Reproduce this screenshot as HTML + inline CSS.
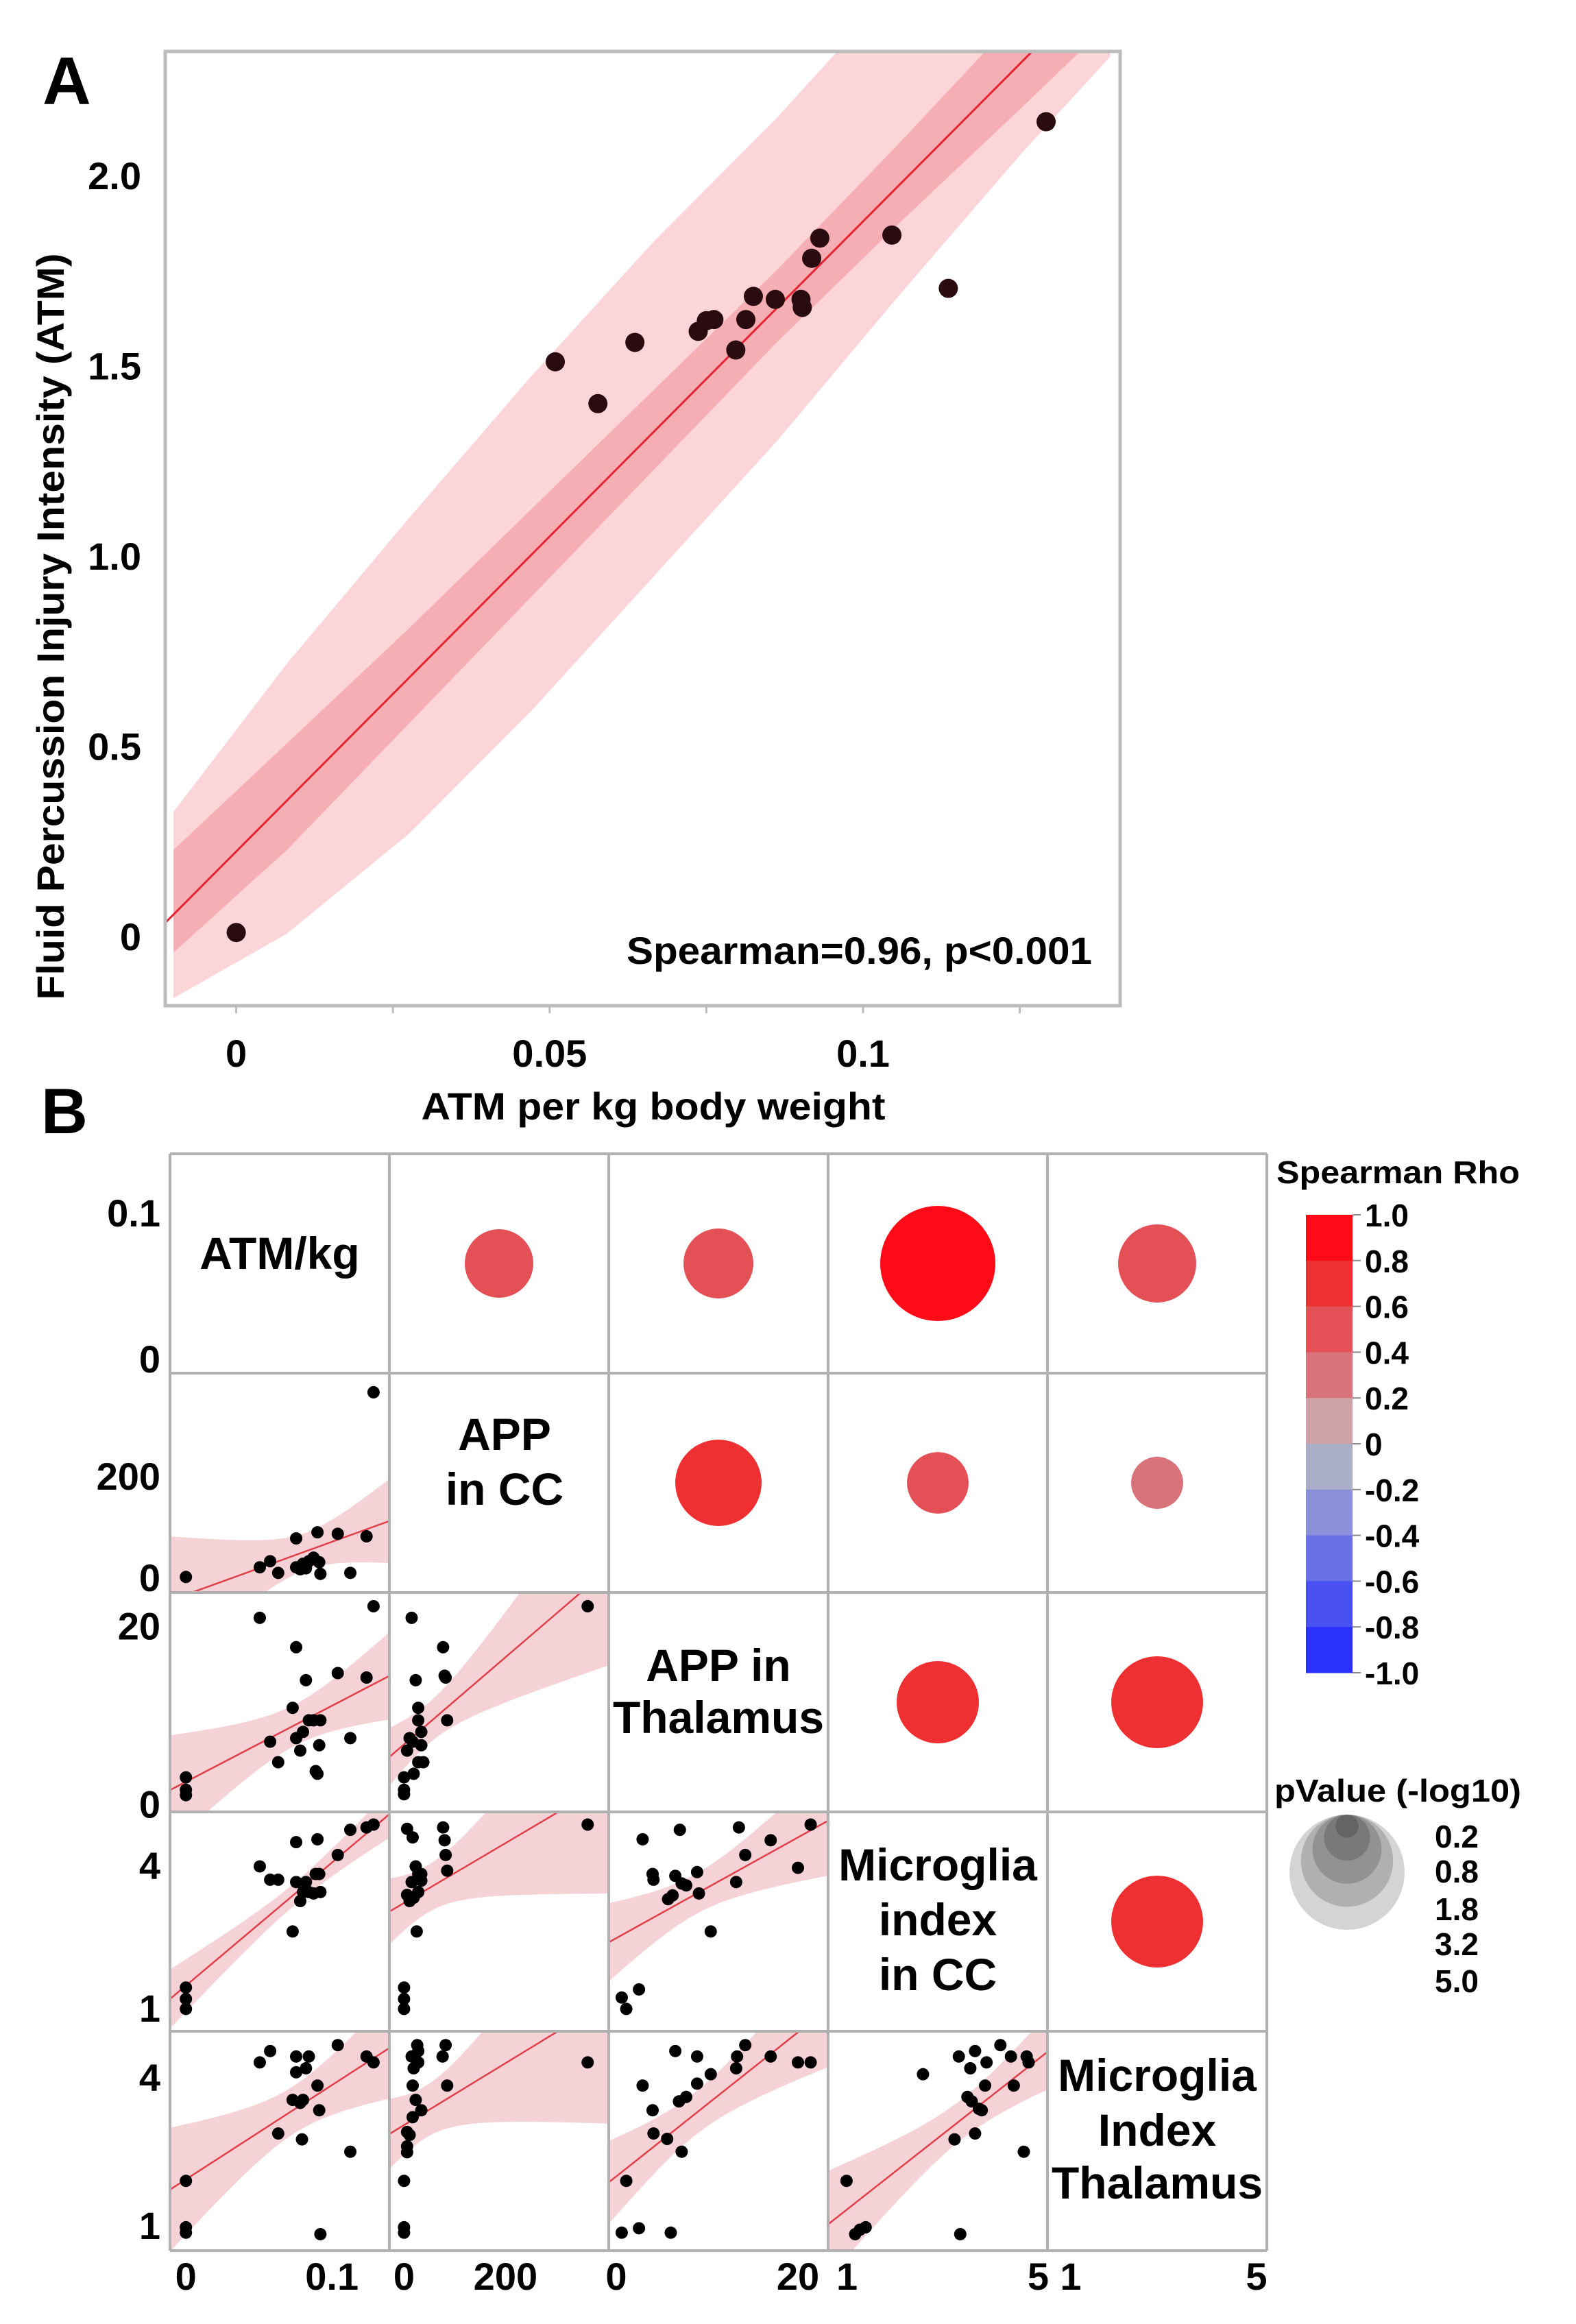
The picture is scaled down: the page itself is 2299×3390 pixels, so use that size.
<!DOCTYPE html>
<html><head><meta charset="utf-8"><title>ATM correlation figure</title>
<style>
html,body{margin:0;padding:0;background:#fff;}
svg{display:block;font-family:"Liberation Sans",Arial,sans-serif;font-weight:bold;}
</style></head>
<body>
<svg id="chart" xmlns="http://www.w3.org/2000/svg" width="2299" height="3390" viewBox="0 0 2299 3390">
<defs>
<clipPath id="clipA"><rect x="243" y="77" width="1389" height="1388"/></clipPath>
</defs>
<rect x="0" y="0" width="2299" height="3390" fill="#fff"/>
</svg>
<script>
// ---------- Panel A data ----------
const aX=[0,0.0509,0.0577,0.0636,0.0737,0.0750,0.0762,0.0797,0.0813,0.0825,0.0860,0.0901,0.0903,0.0918,0.0931,0.1046,0.1136,0.1292];
const aY=[0.01,1.510,1.400,1.561,1.590,1.618,1.621,1.541,1.621,1.682,1.674,1.674,1.653,1.782,1.835,1.843,1.703,2.141];
const aFit=[0.223,16.56];
const bandX=[-0.0100,0.0081,0.0276,0.0471,0.0666,0.0862,0.1057,0.1252,0.1394];
const lightUp=[0.27,0.36,0.42,0.47,0.50,0.50,0.53,0.55,0.56];
const lightLo=[0.22,0.35,0.41,0.41,0.38,0.35,0.29,0.24,0.22];
const darkUp=[0.17,0.15,0.13,0.12,0.11,0.10,0.11,0.13,0.14];
const darkLo=[0.10,0.13,0.12,0.11,0.10,0.09,0.10,0.12,0.13];
const aYTicks=[0,0.5,1.0,1.5,2.0];
const aYTickLabels=["0","0.5","1.0","1.5","2.0"];
const aXTicks=[0,0.05,0.1];
const aXTickLabels=["0","0.05","0.1"];
const aXMinor=[0,0.025,0.05,0.075,0.1,0.125];

// ---------- Panel B data ----------
const pairRow=[0,0,0,0,1,1,1,2,2,3];
const pairCol=[1,2,3,4,2,3,4,3,4,4];
const rhoVals=[0.5,0.5,0.92,0.5,0.7,0.45,0.3,0.7,0.7,0.7];
const negLogP=[1.77,1.84,5.0,2.30,2.81,1.43,1.02,2.55,3.18,3.18];
const legendP=[0.2,0.8,1.8,3.2,5.0];
const legendPLabels=["0.2","0.8","1.8","3.2","5.0"];
const rhoTicks=[1.0,0.8,0.6,0.4,0.2,0,-0.2,-0.4,-0.6,-0.8,-1.0];
const rhoTickLabels=["1.0","0.8","0.6","0.4","0.2","0","-0.2","-0.4","-0.6","-0.8","-1.0"];

const c10x=[0,0.0506,0.0577,0.0632,0.0755,0.0755,0.0783,0.0802,0.0822,0.0842,0.0874,0.0901,0.0913,0.0921,0.104,0.1126,0.1237,0.1285];
const c10y=[1,20,32,9,77,20,16,27,18,32,39,89,30,7,86,9,81,365];
const c10fit=[-34,1042];
const c20x=[0,0,0,0.0506,0.0577,0.0632,0.0731,0.0755,0.0755,0.0783,0.0802,0.0822,0.0842,0.0874,0.0889,0.0901,0.0913,0.0921,0.104,0.1126,0.1237,0.1285];
const c20y=[3.0,1.6,1.0,20.9,7.0,4.7,10.8,17.6,7.4,6.0,8.1,13.9,9.4,9.4,3.7,3.4,6.6,9.4,14.7,7.4,14.2,22.2];
const c20fit=[2.5,85.3];
const c21x=[0,0,0,15,23,28,28,34,34,28,17,6,19,38,77,82,80,85,362,11];
const c21y=[3.0,1.6,1.1,20.9,13.9,10.8,9.4,8.1,6.6,4.7,7.0,6.0,3.4,4.7,17.6,14.2,14.4,9.4,22.2,7.4];
const c21fit=[6.7,0.0489];
const c30x=[0,0,0,0.0506,0.0577,0.0632,0.0731,0.0755,0.0755,0.0783,0.0802,0.0822,0.0842,0.0874,0.0889,0.0901,0.0913,0.0921,0.104,0.1126,0.1237,0.1285];
const c30y=[1.43,1.19,0.98,3.98,3.70,3.70,2.61,4.49,3.65,3.25,3.44,3.65,3.44,3.41,3.82,4.55,3.82,3.44,4.22,4.75,4.80,4.86];
const c30fit=[1.47,25.9];
const c31x=[0,0,0,6,17,23,15,28,34,28,19,11,25,77,80,82,85,362,6,34];
const c31y=[1.43,1.19,0.98,4.77,4.59,3.98,3.65,3.82,3.82,3.44,3.32,3.25,2.61,4.80,4.53,4.22,3.89,4.86,3.38,3.68];
const c31fit=[3.21,0.0063];
const c32x=[0.6,1.1,2.5,2.9,4.0,4.1,5.7,6.2,6.5,7.0,7.2,7.7,8.9,9.1,10.4,13.2,13.5,14.2,17.0,20.0,21.4];
const c32y=[1.22,0.98,1.39,4.55,3.82,3.70,3.29,3.37,3.78,4.75,3.62,3.58,3.86,3.41,2.61,3.65,4.80,4.22,4.53,3.95,4.86];
const c32fit=[2.47,0.106];
const c40x=[0,0,0,0.0506,0.0577,0.0632,0.0755,0.0755,0.0783,0.0802,0.0731,0.0795,0.0822,0.0842,0.0901,0.0913,0.104,0.1126,0.1237,0.1285,0.0921];
const c40y=[1.90,0.96,0.85,4.30,4.53,2.86,4.42,4.10,3.48,3.54,3.54,2.74,4.18,4.42,3.83,3.33,4.65,2.49,4.42,4.30,0.82];
const c40fit=[1.93,19.1];
const c41x=[0,0,0,6,6,15,17,19,23,28,28,26,34,11,76,82,85,362,17,6];
const c41y=[1.90,0.96,0.85,2.89,2.48,4.42,3.83,4.18,3.54,4.53,4.30,4.65,3.33,2.83,4.42,4.65,3.83,4.30,3.19,2.60];
const c41fit=[3.03,0.00627];
const c42x=[0.6,1.1,2.5,2.9,4.0,4.1,5.6,6.0,6.5,6.9,7.2,7.7,8.9,8.9,10.4,13.2,13.3,14.2,17.0,20.0,21.4];
const c42y=[0.85,1.90,0.94,3.83,3.33,2.86,2.75,0.85,4.53,3.51,2.49,3.60,3.87,4.42,4.06,4.18,4.42,4.65,4.42,4.30,4.30];
const c42fit=[1.99,0.146];
const c43x=[0.99,1.17,1.27,1.39,2.59,3.25,3.34,3.37,3.52,3.58,3.61,3.68,3.68,3.76,3.82,3.89,3.92,4.21,4.43,4.49,4.70,4.76,4.80];
const c43y=[1.90,0.82,0.91,0.96,4.06,2.74,4.42,0.82,3.60,4.18,3.51,4.53,2.86,3.36,3.33,3.83,4.30,4.65,4.42,3.83,2.49,4.42,4.30];
const c43fit=[0.56,0.761];

const bXTicks=[[0,0.1],[0,200],[0,20],[1,5],[1,5]];
const bXTickLabels=[["0","0.1"],["0","200"],["0","20"],["1","5"],["1","5"]];
const bYTicks=[[0,0.1],[0,200],[0,20],[1,4],[1,4]];
const bYTickLabels=[["0","0.1"],["0","200"],["0","20"],["1","4"],["1","4"]];

// ---------- helpers ----------
const NS="http://www.w3.org/2000/svg";
const svg=document.getElementById('chart');
function el(tag,attrs,parent){const e=document.createElementNS(NS,tag);for(const k in attrs)e.setAttribute(k,attrs[k]);(parent||svg).appendChild(e);return e;}
function txt(s,attrs,parent){const e=el('text',attrs,parent);e.textContent=s;return e;}

// ---------- Panel A ----------
const xA=v=>344.6+v*9144;
const yA=v=>1365.8-v*555;
const gA=el('g',{});


const label_A=txt('A',{x:62,y:152,'font-size':98,fill:'#000'},gA);



const clipG=el('g',{'clip-path':'url(#clipA)'},gA);


function bandPath(up,lo){
  let pts=[];
  for(let i=0;i<bandX.length;i++){const x=bandX[i];pts.push(xA(x).toFixed(1)+','+yA(aFit[0]+aFit[1]*x+up[i]).toFixed(1));}
  for(let i=bandX.length-1;i>=0;i--){const x=bandX[i];pts.push(xA(x).toFixed(1)+','+yA(aFit[0]+aFit[1]*x-lo[i]).toFixed(1));}
  return pts.join(' ');
}
const predBand=el('polygon',{points:bandPath(lightUp,lightLo),fill:'#fbd5d8'},clipG);


const ciBand=el('polygon',{points:bandPath(darkUp,darkLo),fill:'#f5aeb3'},clipG);


const x0=-0.02,x1=0.15;
const fitLine=el('line',{x1:xA(x0),y1:yA(aFit[0]+aFit[1]*x0),x2:xA(x1),y2:yA(aFit[0]+aFit[1]*x1),stroke:'#e42430','stroke-width':3},clipG);


for(let i=0;i<aX.length;i++){
  const d=el('circle',{cx:xA(aX[i]),cy:yA(aY[i]),r:14,fill:'#2a0b0f'},clipG);
  
  
}
const frameA=el('rect',{x:241,y:75,width:1393,height:1392,fill:'none',stroke:'#bcbcbc','stroke-width':5},gA);


for(let i=0;i<aXMinor.length;i++){
  const t=el('line',{x1:xA(aXMinor[i]),x2:xA(aXMinor[i]),y1:1467,y2:1478,stroke:'#bcbcbc','stroke-width':3},gA);
  
  
}
for(let i=0;i<aYTicks.length;i++){
  const t=txt(aYTickLabels[i],{x:206,y:yA(aYTicks[i])+20,'font-size':56,'text-anchor':'end',fill:'#000'},gA);
  
  
}
for(let i=0;i<aXTicks.length;i++){
  const t=txt(aXTickLabels[i],{x:xA(aXTicks[i]),y:1556,'font-size':56,'text-anchor':'middle',fill:'#000'},gA);
  
  
}
const xTitle=txt('ATM per kg body weight',{x:953,y:1633,'font-size':56,'text-anchor':'middle',textLength:677,lengthAdjust:'spacingAndGlyphs',fill:'#000'},gA);


const yTitle=txt('Fluid Percussion Injury Intensity (ATM)',{x:0,y:0,'font-size':56,'text-anchor':'middle',textLength:1089,lengthAdjust:'spacingAndGlyphs',fill:'#000',transform:'translate(93,914) rotate(-90)'},gA);


const spear=txt('Spearman=0.96, p<0.001',{x:1593,y:1406,'font-size':56,'text-anchor':'end',textLength:679,lengthAdjust:'spacingAndGlyphs',fill:'#000'},gA);



// ---------- Panel B ----------
const gridLeft=248,gridTop=1683,cs=320;
const varX=[{v0:0,p0:23.2,k:2130},{v0:0,p0:21.4,k:0.74},{v0:0,p0:11,k:13.25},{v0:1,p0:27.6,k:69.7},{v0:1,p0:34,k:67.75}];
const varY=[{v0:0,p0:299,k:2130},{v0:0,p0:298,k:0.74},{v0:0,p0:308.6,k:13.0},{v0:1,p0:286,k:69.3},{v0:1,p0:283,k:72}];
const xB=(col,v)=>gridLeft+col*cs+varX[col].p0+(v-varX[col].v0)*varX[col].k;
const yB=(row,v)=>gridTop+row*cs+varY[row].p0-(v-varY[row].v0)*varY[row].k;
const xBinv=(col,px)=>varX[col].v0+(px-gridLeft-col*cs-varX[col].p0)/varX[col].k;

const gB=el('g',{});


const label_B=txt('B',{x:60,y:1653,'font-size':94,fill:'#000'},gB);



const segColors=['#ff0a16','#ef3032','#e35157','#d8737a','#cda1a6','#aaaec7','#8a90d8','#6a70e6','#4950f1','#2a31fc'];
function rhoColor(r){let idx=Math.floor((1-r)/0.2);if(idx<0)idx=0;if(idx>9)idx=9;return segColors[idx];}
const pRad=p=>84*Math.sqrt(p/5);

const cells=[
 {r:1,c:0,xs:c10x,ys:c10y,fit:c10fit},
 {r:2,c:0,xs:c20x,ys:c20y,fit:c20fit},
 {r:2,c:1,xs:c21x,ys:c21y,fit:c21fit},
 {r:3,c:0,xs:c30x,ys:c30y,fit:c30fit},
 {r:3,c:1,xs:c31x,ys:c31y,fit:c31fit},
 {r:3,c:2,xs:c32x,ys:c32y,fit:c32fit},
 {r:4,c:0,xs:c40x,ys:c40y,fit:c40fit},
 {r:4,c:1,xs:c41x,ys:c41y,fit:c41fit},
 {r:4,c:2,xs:c42x,ys:c42y,fit:c42fit},
 {r:4,c:3,xs:c43x,ys:c43y,fit:c43fit}
];
const defs=svg.querySelector('defs');
cells.forEach((cell,ci)=>{
  const cx0=gridLeft+cell.c*cs, cy0=gridTop+cell.r*cs;
  const cp=el('clipPath',{id:'cc'+ci},defs);
  el('rect',{x:cx0,y:cy0,width:cs,height:cs},cp);
  const g=el('g',{'clip-path':'url(#cc'+ci+')'},gB);
  
  
  const n=cell.xs.length;
  let xm=0;cell.xs.forEach(v=>xm+=v);xm/=n;
  let sxx=0,ss=0;
  for(let i=0;i<n;i++){sxx+=(cell.xs[i]-xm)**2;const res=cell.ys[i]-(cell.fit[0]+cell.fit[1]*cell.xs[i]);ss+=res*res;}
  const s=Math.sqrt(ss/(n-2)),t=2.1;
  const top=[],bot=[];
  for(let k=0;k<=40;k++){
    const px=cx0+k*cs/40;const v=xBinv(cell.c,px);
    const yv=cell.fit[0]+cell.fit[1]*v;
    const h=t*s*Math.sqrt(1/n+(v-xm)**2/sxx);
    top.push(px.toFixed(1)+','+yB(cell.r,yv+h).toFixed(1));
    bot.unshift(px.toFixed(1)+','+yB(cell.r,yv-h).toFixed(1));
  }
  const band=el('polygon',{points:top.concat(bot).join(' '),fill:'#f5d2d6'},g);
  
  
  const va=xBinv(cell.c,cx0),vb=xBinv(cell.c,cx0+cs);
  const ln=el('line',{x1:cx0,y1:yB(cell.r,cell.fit[0]+cell.fit[1]*va),x2:cx0+cs,y2:yB(cell.r,cell.fit[0]+cell.fit[1]*vb),stroke:'#e0404a','stroke-width':2.5},g);
  
  
  for(let i=0;i<n;i++){
    const d=el('circle',{cx:xB(cell.c,cell.xs[i]),cy:yB(cell.r,cell.ys[i]),r:9,fill:'#000'},g);
    
    
  }
});

for(let i=0;i<pairRow.length;i++){
  const cx=gridLeft+pairCol[i]*cs+cs/2, cy=gridTop+pairRow[i]*cs+cs/2;
  const c=el('circle',{cx:cx,cy:cy,r:pRad(negLogP[i]),fill:rhoColor(rhoVals[i])},gB);
  
  
}

const diagLines=[["ATM/kg"],["APP","in CC"],["APP in","Thalamus"],["Microglia","index","in CC"],["Microglia","Index","Thalamus"]];
const diagBase=[[1851],[2115,2195],[2452,2528],[2743,2823,2903],[3050,3130,3207]];
diagLines.forEach((lines,i)=>{
  lines.forEach((s,j)=>{
    const t=txt(s,{x:gridLeft+i*cs+cs/2+(i===1?8:0),y:diagBase[i][j],'font-size':66,'text-anchor':'middle',fill:'#000'},gB);
    
    
  });
});

for(let i=0;i<=5;i++){
  const v=el('line',{x1:gridLeft+i*cs,x2:gridLeft+i*cs,y1:gridTop,y2:gridTop+5*cs,stroke:'#b0b0b0','stroke-width':4},gB);
  
  
  const h=el('line',{x1:gridLeft,x2:gridLeft+5*cs,y1:gridTop+i*cs,y2:gridTop+i*cs,stroke:'#b0b0b0','stroke-width':4},gB);
  
  
}

for(let r=0;r<5;r++){
  for(let j=0;j<2;j++){
    const t=txt(bYTickLabels[r][j],{x:234,y:yB(r,bYTicks[r][j])+20,'font-size':56,'text-anchor':'end',fill:'#000'},gB);
    
    
  }
}
for(let c=0;c<5;c++){
  for(let j=0;j<2;j++){
    const t=txt(bXTickLabels[c][j],{x:xB(c,bXTicks[c][j]),y:3340,'font-size':56,'text-anchor':'middle',fill:'#000'},gB);
    
    
  }
}

const gL=el('g',{});


const lt=txt('Spearman Rho',{x:1862,y:1726,'font-size':46,fill:'#000',textLength:355,lengthAdjust:'spacingAndGlyphs'},gL);


const barTop=1772,segH=66.8;
for(let i=0;i<segColors.length;i++){
  const s=el('rect',{x:1905,y:barTop+i*segH,width:68,height:segH+0.5,fill:segColors[i]},gL);
  
  
}
for(let i=0;i<rhoTicks.length;i++){
  const yy=barTop+(1-rhoTicks[i])/0.2*segH;
  const tk=el('line',{x1:1973,x2:1985,y1:yy,y2:yy,stroke:'#888','stroke-width':2},gL);
  
  
  const t=txt(rhoTickLabels[i],{x:1991,y:yy+17,'font-size':46,fill:'#000'},gL);
  
  
}

const gP=el('g',{});


const pt=txt('pValue (-log10)',{x:1859,y:2628,'font-size':46,fill:'#000',textLength:360,lengthAdjust:'spacingAndGlyphs'},gP);


for(let i=legendP.length-1;i>=0;i--){
  const r=pRad(legendP[i]);
  const c=el('circle',{cx:1965,cy:2647+r,r:r,fill:'rgba(0,0,0,0.17)'},gP);
  
  
}
const pLabY=[2679,2730,2785,2836,2890];
for(let i=0;i<legendP.length;i++){
  const t=txt(legendPLabels[i],{x:2093,y:pLabY[i]+16,'font-size':46,fill:'#000'},gP);
  
  
}
</script>
</body></html>
